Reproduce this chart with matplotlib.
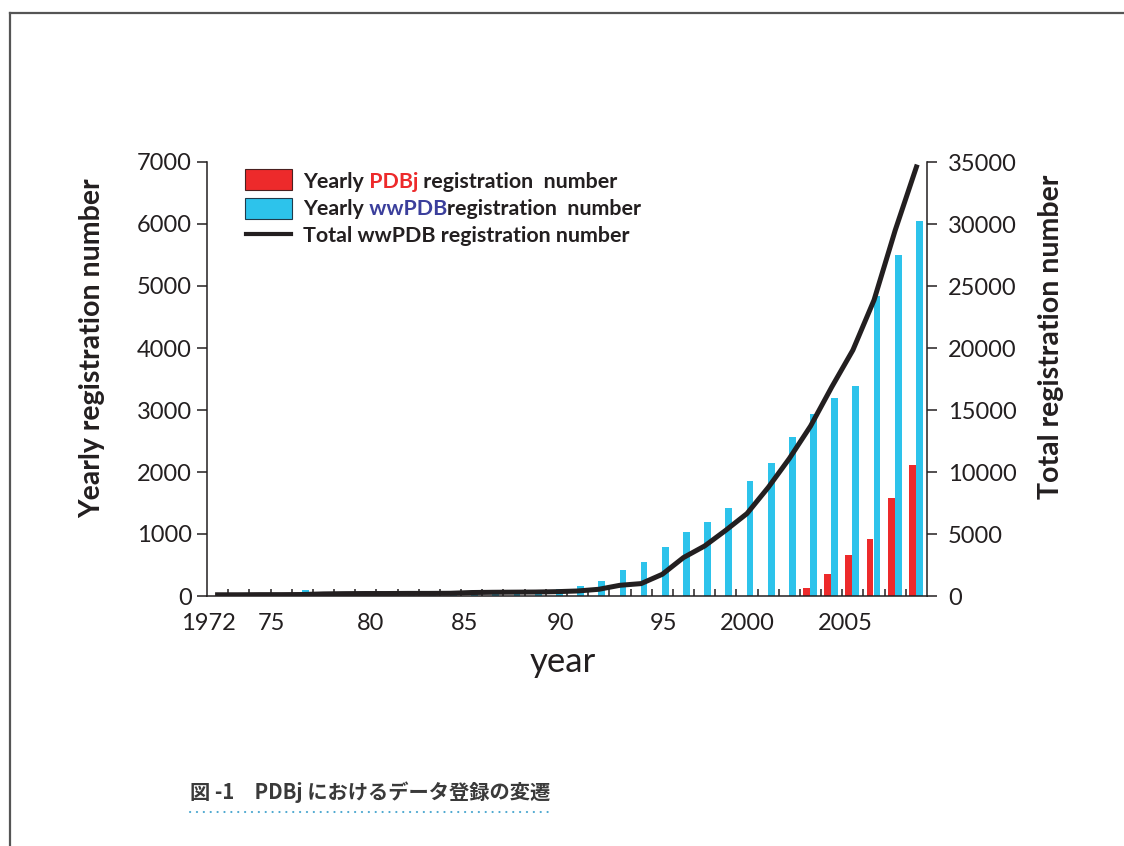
import matplotlib
matplotlib.use("Agg")
import matplotlib.pyplot as plt
import numpy as np
from matplotlib.lines import Line2D
from matplotlib.patches import Rectangle

plt.rcParams["font.family"] = ["Lato", "DejaVu Sans"]

# values
years = np.arange(1972, 2006)
wwpdb_yearly = [10, 10, 15, 20, 90, 20, 25, 25, 30, 30, 35, 40, 60, 60, 70, 80,
                108, 156, 237, 426, 555, 790, 1027, 1189, 1426, 1850, 2140, 2560,
                2931, 3200, 3382, 4839, 5495, 6055]
pdbj_yearly = [0] * 28 + [130, 350, 655, 925, 1585, 2105]
wwpdb_total = [100, 100, 110, 110, 120, 170, 190, 200, 200, 210, 210, 220,
               280, 300, 310, 320, 350, 404, 541, 864, 1000, 1751, 3099, 4035,
               5303, 6650, 8749, 11090, 13700, 16850, 19830, 23870, 29500, 34600]

x_labels = ["1972", "75", "80", "85", "90", "95", "2000", "2005"]
x_label_pos = [1972.05, 1975.06, 1979.73, 1984.18, 1988.67, 1993.55, 1997.51, 2002.13]

RED = "#ed2a2b"
BLUE = "#2dc3eb"
NAVY = "#3b3f9c"
INK = "#231f20"

W, H = 1124, 846
fig = plt.figure(figsize=(W / 100, H / 100), dpi=100)
ax = fig.add_axes([207 / W, 1 - 596 / H, 720 / W, 434 / H])

ax.bar(years + 0.31, pdbj_yearly, width=0.32, color=RED, linewidth=0)
ax.bar(years + 0.64, wwpdb_yearly, width=0.32, color=BLUE, linewidth=0)
ax.set_xlim(1972, 2006)
ax.set_ylim(0, 7000)

ax2 = ax.twinx()
ax2.plot(years + 0.5, wwpdb_total, color=INK, lw=3.6)
ax2.set_ylim(0, 35000)

for s in ["top", "right"]:
    ax.spines[s].set_visible(False)
for s in ["top", "left", "bottom"]:
    ax2.spines[s].set_visible(False)
for sp in [ax.spines["left"], ax.spines["bottom"], ax2.spines["right"]]:
    sp.set_linewidth(1.1)
    sp.set_color(INK)

ax.set_xticks(x_label_pos)
ax.set_xticklabels(x_labels)
ax.set_xticks(np.arange(1973, 2006), minor=True)
ax.tick_params(axis="x", which="major", length=0, pad=12, labelsize=17, labelcolor=INK)
ax.tick_params(axis="x", which="minor", direction="in", length=5, width=1.1, color=INK)
ax.set_yticks(range(0, 7001, 1000))
ax.tick_params(axis="y", direction="out", length=7, width=1.1, pad=4, labelsize=17,
               color=INK, labelcolor=INK)
ax2.set_yticks(range(0, 35001, 5000))
ax2.tick_params(axis="y", direction="out", length=7, width=1.1, pad=8, labelsize=17,
                color=INK, labelcolor=INK)

ax.set_xlabel("year", fontsize=25, color=INK)
ax.xaxis.set_label_coords(0.494, -0.175)
ax.xaxis.label.set_va("baseline")
ax.set_ylabel("Yearly registration number", fontsize=20.5, fontweight="bold", color=INK, va="center")
ax.yaxis.set_label_coords(-0.160, 0.570)
ax2.set_ylabel("Total registration number", fontsize=20.5, fontweight="bold", color=INK,
               va="center", rotation=90)
ax2.yaxis.set_label_coords(1.172, 0.597)

# legend built by hand so that the words PDBj / wwPDB can carry their own colour
fig.add_artist(Rectangle((245 / W, 1 - 190 / H), 47 / W, 21 / H, transform=fig.transFigure,
                         facecolor=RED, edgecolor="#4a2020", lw=0.8))
fig.add_artist(Rectangle((245 / W, 1 - 219 / H), 47 / W, 21 / H, transform=fig.transFigure,
                         facecolor=BLUE, edgecolor="#203a4a", lw=0.8))
fig.add_artist(Line2D([246 / W, 291 / W], [1 - 234 / H] * 2, transform=fig.transFigure,
                      color=INK, lw=3))


def color_row(x, y, parts, size=15.4):
    prev = fig.text(x, y, parts[0][0], color=parts[0][1], fontsize=size,
                    fontweight="bold", va="baseline")
    for s, c in parts[1:]:
        prev = ax.annotate(s, xy=(1, 0), xycoords=prev, va="bottom", ha="left",
                           color=c, fontsize=size, fontweight="bold")


color_row(303 / W, 1 - 187.5 / H, [("Yearly", INK), (" PDBj", RED), (" registration  number", INK)])
color_row(303 / W, 1 - 215 / H, [("Yearly", INK), (" wwPDB", NAVY), ("registration  number", INK)])
color_row(303 / W, 1 - 241.5 / H, [("Total wwPDB registration number", INK)])

# caption and frame
fig.text(190 / W, 1 - 792 / H, "図 -1\u3000PDBj におけるデータ登録の変遷", fontsize=14.6,
         fontweight="bold", color="#3a3a3a", va="center",
         family=["Noto Sans CJK JP", "DejaVu Sans"])
fig.add_artist(Line2D([190 / W, 553 / W], [1 - 812 / H] * 2, transform=fig.transFigure,
                      color="#4aa7cf", lw=1.5, linestyle=(0, (0.1, 3.2)),
                      dash_capstyle="round"))
fig.add_artist(Line2D([9.5 / W, 9.5 / W], [0, 1 - 13 / H], transform=fig.transFigure,
                      color="#555555", lw=1.6))
fig.add_artist(Line2D([9.5 / W, 1], [1 - 13 / H] * 2, transform=fig.transFigure,
                      color="#555555", lw=1.6))

fig.savefig("out.png", dpi=100)
